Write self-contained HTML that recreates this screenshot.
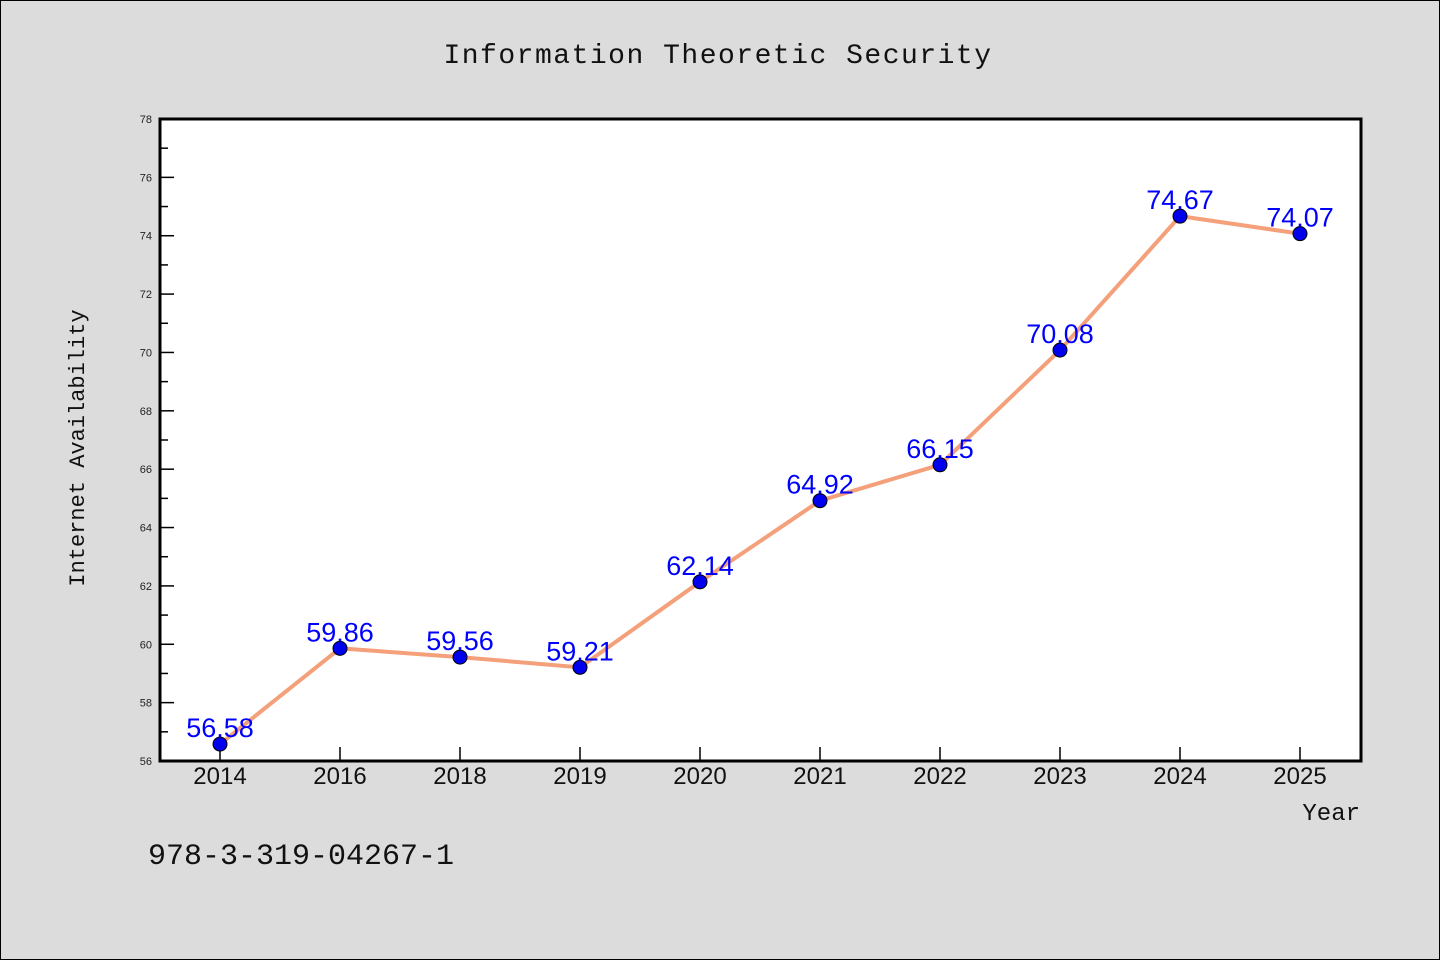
<!DOCTYPE html>
<html><head><meta charset="utf-8"><style>
body{margin:0;background:#dcdcdc;}
svg{display:block;font-family:"Liberation Sans",sans-serif;}
.mono{font-family:"Liberation Mono",monospace;}
</style></head><body>
<svg id="chart" width="1440" height="960">
<rect x="0.5" y="0.5" width="1439" height="959" fill="#dcdcdc" stroke="#000"/>
<text class="mono" x="718" y="63" text-anchor="middle" font-size="28" letter-spacing="1.5" fill="#111">Information Theoretic Security</text>
<rect x="160" y="119" width="1201" height="642" fill="#fff"/>
<g id="ticks"></g>
<g id="series"></g>
<rect x="160" y="119" width="1201" height="642" fill="none" stroke="#000" stroke-width="3"/>
<text class="mono" x="84" y="448" transform="rotate(-90 84 448)" text-anchor="middle" font-size="22" fill="#111">Internet Availability</text>
<text class="mono" x="1360" y="820" text-anchor="end" font-size="24" fill="#111">Year</text>
<text class="mono" x="148" y="864" font-size="30" fill="#111">978-3-319-04267-1</text>
</svg>
<script>
const categories=["2014","2016","2018","2019","2020","2021","2022","2023","2024","2025"];
const values=[56.58,59.86,59.56,59.21,62.14,64.92,66.15,70.08,74.67,74.07];
const valueLabels=["56.58","59.86","59.56","59.21","62.14","64.92","66.15","70.08","74.67","74.07"];
const yTicks=[56,58,60,62,64,66,68,70,72,74,76,78];
const yMin=56,yMax=78,pLeft=160,pRight=1360,pTop=119,pBottom=761;
const NS="http://www.w3.org/2000/svg";
function y(v){return pBottom-(v-yMin)/(yMax-yMin)*(pBottom-pTop);}
function x(i){return pLeft+(pRight-pLeft)/categories.length*(i+0.5);}
function mk(t,a,p){const e=document.createElementNS(NS,t);for(const k in a)e.setAttribute(k,a[k]);p.appendChild(e);return e;}
const tg=document.getElementById('ticks');
yTicks.forEach((v,i)=>{
  const l=mk('line',{x1:pLeft,x2:pLeft+14,y1:y(v),y2:y(v),stroke:'#000','stroke-width':1.5},tg);
  
  
  const t=mk('text',{x:152,y:y(v)+4,'text-anchor':'end','font-size':11,fill:'#222'},tg);
  t.textContent=v;
  
  
  if(i<yTicks.length-1){
    const m=mk('line',{x1:pLeft,x2:pLeft+8,y1:y(v+1),y2:y(v+1),stroke:'#000','stroke-width':1.5},tg);
    
    
  }
});
categories.forEach((c,i)=>{
  const l=mk('line',{x1:x(i),x2:x(i),y1:pBottom,y2:pBottom-14,stroke:'#000','stroke-width':1.5},tg);
  
  
  const t=mk('text',{x:x(i),y:784,'text-anchor':'middle','font-size':24,fill:'#111'},tg);
  t.textContent=c;
  
  
});
const sg=document.getElementById('series');
const pl=mk('polyline',{points:values.map((v,i)=>x(i)+','+y(v)).join(' '),fill:'none',stroke:'#f4a07a','stroke-width':4},sg);


values.forEach((v,i)=>{
  const c=mk('circle',{cx:x(i),cy:y(v),r:7,fill:'#0000ee',stroke:'#000','stroke-width':1},sg);
  
  
  const t=mk('text',{x:x(i),y:y(v)-7,'text-anchor':'middle','font-size':27,fill:'#0000ff'},sg);
  t.textContent=valueLabels[i];
  
  
});
</script>
</body></html>
